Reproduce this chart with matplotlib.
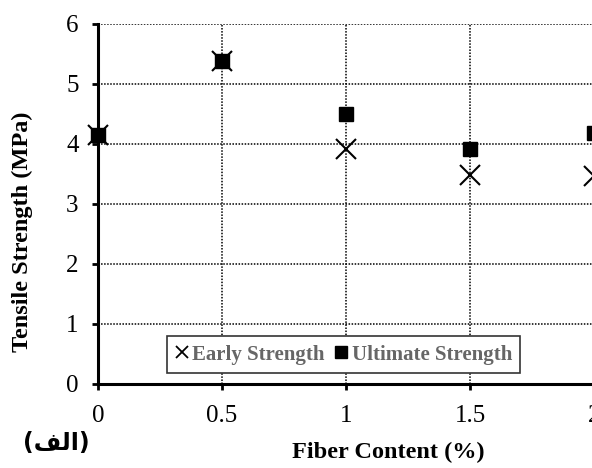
import numpy as np
import matplotlib.pyplot as plt

# values
fiber_content = [0, 0.5, 1, 1.5, 2]
early_strength = [4.15, 5.38, 3.92, 3.49, 3.46]
ultimate_strength = [4.15, 5.38, 4.50, 3.91, 4.19]
x_ticks = [0, 0.5, 1, 1.5, 2]
x_tick_labels = ['0', '0.5', '1', '1.5', '2']
y_ticks = [0, 1, 2, 3, 4, 5, 6]

serif = ['Liberation Serif', 'DejaVu Serif']
plt.rcParams['font.family'] = serif

fig = plt.figure(figsize=(5.92, 4.68), dpi=100)
ax = fig.add_axes([98 / 592, 84 / 468, 496 / 592, 360 / 468])

ax.plot(fiber_content, ultimate_strength, linestyle='none', marker='s',
        markersize=9.5, color='black', label='Ultimate Strength', clip_on=False, zorder=3)
ax.plot(fiber_content, early_strength, linestyle='none', marker='x',
        markersize=15, markeredgewidth=1.5, color='black', label='Early Strength',
        clip_on=False, zorder=4)

ax.set_xlim(0, 2)
ax.set_ylim(0, 6)
ax.set_xticks(x_ticks)
ax.set_xticklabels(x_tick_labels)
ax.set_yticks(y_ticks)
ax.tick_params(labelsize=18, length=4, width=2, direction='out')
ax.tick_params(axis='x', pad=11)
ax.tick_params(axis='y', pad=10)

ax.grid(True, color='black', linestyle=(0, (1, 1)), linewidth=1.1)
ax.set_axisbelow(True)
for side in ['top', 'right']:
    ax.spines[side].set_visible(False)
for side in ['left', 'bottom']:
    ax.spines[side].set_linewidth(2.2)

ax.set_xlabel('Fiber Content (%)', fontsize=17.5, fontweight='bold')
ax.xaxis.set_label_coords((388 - 98) / 496, (384 - 442) / 360)
ax.set_ylabel('Tensile Strength (MPa)', fontsize=17.5, fontweight='bold')
ax.yaxis.set_label_coords((33 - 98) / 496, (384 - 232) / 360)

handles, labels = ax.get_legend_handles_labels()
leg = ax.legend(handles[::-1], labels[::-1], ncol=2, loc='lower left',
                bbox_to_anchor=((167 - 98) / 496, (384 - 373) / 360),
                frameon=True, fancybox=False, edgecolor='#333333', framealpha=1,
                handlelength=0.6, handletextpad=0.2, columnspacing=0.5,
                borderpad=0.4, borderaxespad=0,
                prop={'family': serif, 'weight': 'bold', 'size': 15})
leg.get_frame().set_linewidth(1.2)
for txt in leg.get_texts():
    txt.set_color('#666666')
leg.legend_handles[0].set_markersize(9)
leg.legend_handles[0].set_markeredgewidth(1.3)
leg.legend_handles[1].set_markersize(8.5)

# panel tag, Arabic presentation forms in visual order
fig.text(56 / 592, 1 - 443 / 468, '(\ufed2\ufedf\ufe8d)', fontsize=17,
         fontweight='bold', family=['DejaVu Sans'], ha='center', va='center')

fig.savefig('out.png', dpi=100)
